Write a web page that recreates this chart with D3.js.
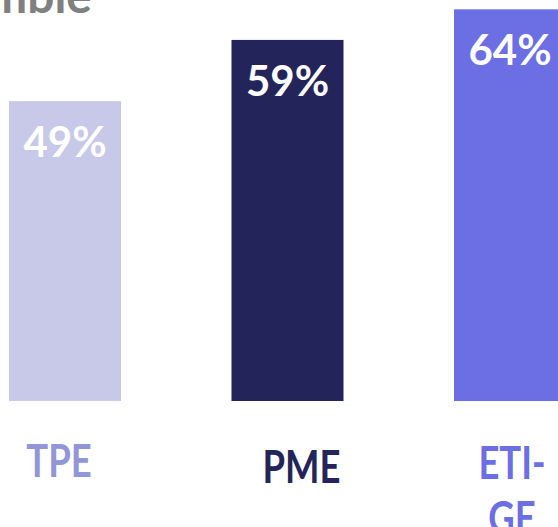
<!DOCTYPE html>
<html lang="fr">
<head>
    <meta charset="UTF-8">
    <title>Répartition par taille d'entreprise</title>
    <script src="https://d3js.org/d3.v7.min.js"></script>
    <style>
        html, body {
            margin: 0;
            padding: 0;
            background: #fff;
            overflow: hidden;
        }
        svg { display: block; }
        text { font-family: "Lato", "Noto Sans", sans-serif; font-weight: 700; }
    </style>
</head>
<body>
    <div id="chart"></div>

    <script>
        // data
        const categories = ["TPE", "PME", "ETI-GE"];
        const labelLines = [["TPE"], ["PME"], ["ETI-", "GE"]];
        const values = [49, 59, 64];

        // look
        const barColors = ["#c8c9e8", "#23255a", "#6b6fe3"];
        const labelColors = ["#9296d6", "#23255a", "#6b6fe3"];
        // text boxes are not exactly centred under the bars in the original
        const labelDx = [-6, 14, 2];
        const labelY = [477, 483, 479];

        const width = 558;
        const height = 527;
        const barWidth = 112;

        const svg = d3.select("#chart")
                      .append("svg")
                      .attr("width", width)
                      .attr("height", height);

        const x = d3.scalePoint()
                    .domain(categories)
                    .range([65, 510]);

        const y = d3.scaleLinear()
                    .domain([0, 100])
                    .range([401, -211]);

        // title tail, cut by the crop
        svg.append("text")
           .attr("x", 92)
           .attr("y", 13)
           .attr("text-anchor", "end")
           .attr("fill", "#808080")
           .style("font-size", "48px")
           .text("Ensemble");

        const g = svg.selectAll("g.bar")
                     .data(categories)
                     .enter()
                     .append("g")
                     .attr("class", "bar");

        g.append("rect")
         .attr("x", d => x(d) - barWidth / 2)
         .attr("y", (d, i) => y(values[i]))
         .attr("width", barWidth)
         .attr("height", (d, i) => y(0) - y(values[i]))
         .attr("fill", (d, i) => barColors[i]);

        g.append("text")
         .attr("x", d => x(d))
         .attr("y", (d, i) => y(values[i]) + 56)
         .attr("text-anchor", "middle")
         .attr("fill", "#fff")
         .style("font-size", "42px")
         .text((d, i) => values[i] + "%");

        // narrow bold category labels
        g.append("text")
         .attr("text-anchor", "middle")
         .attr("fill", (d, i) => labelColors[i])
         .attr("transform", (d, i) => `translate(${x(d) + labelDx[i]},${labelY[i]}) scale(0.81,1)`)
         .style("font-size", "45px")
         .each(function(d, i) {
             const t = d3.select(this);
             labelLines[i].forEach((line, j) => {
                 t.append("tspan")
                  .attr("x", 0)
                  .attr("y", j * 55)
                  .text(line);
             });
         });
    </script>
</body>
</html>
